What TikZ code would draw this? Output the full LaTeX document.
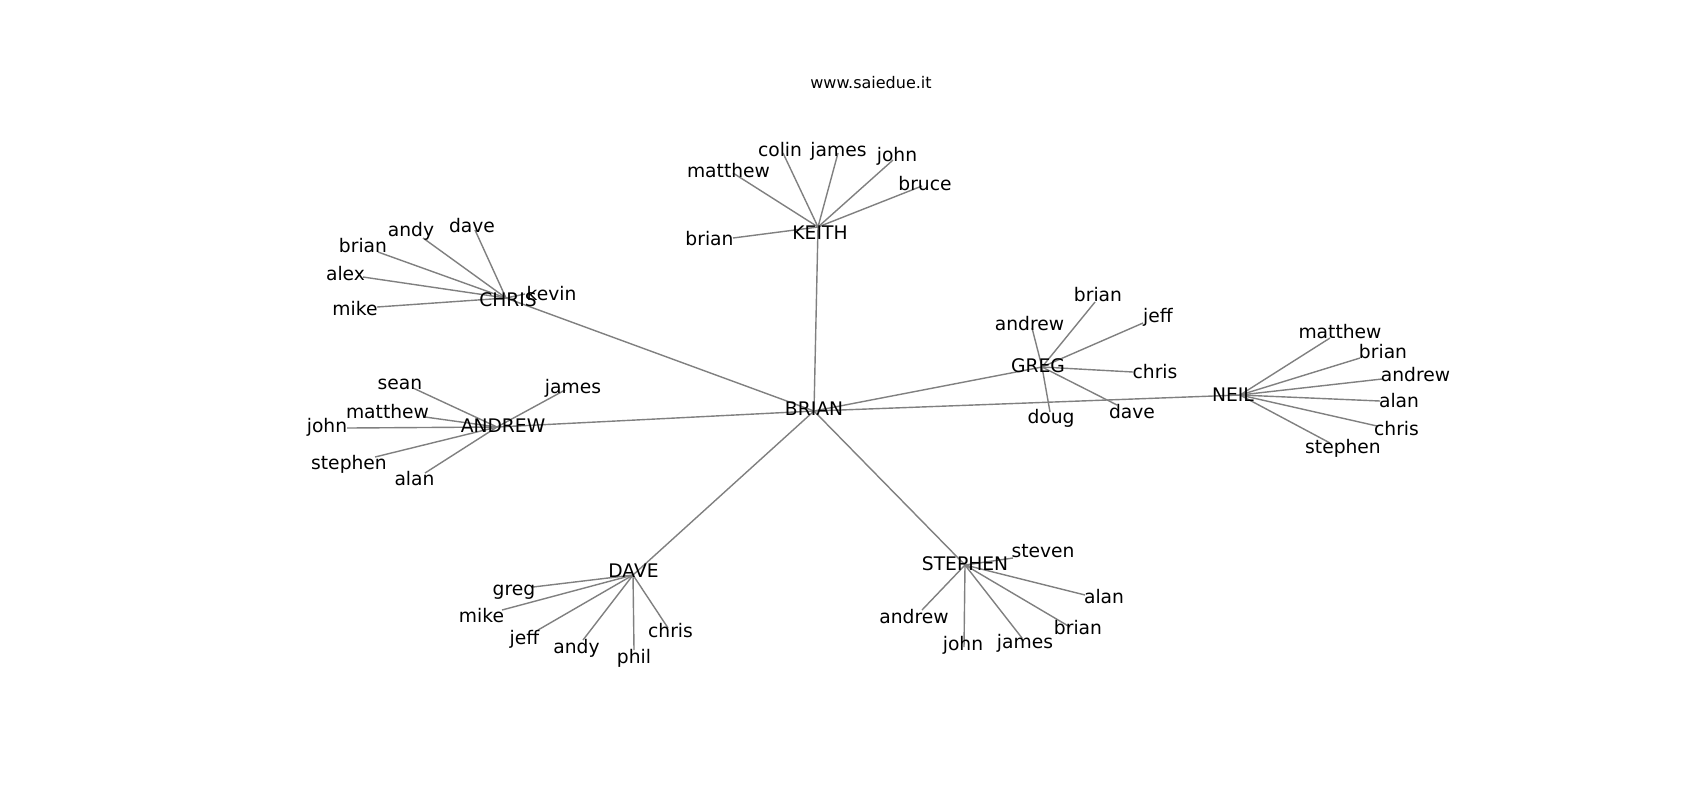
\documentclass[tikz,border=0pt]{standalone}
\usepackage{fontspec}
\setmainfont{DejaVu Sans}
\usepackage{tikz}

\begin{document}
\begin{tikzpicture}[x=0.5pt,y=-0.5pt,
  person/.style={anchor=base,inner sep=0pt,font=\fontsize{9.35}{11}\selectfont},
  edge/.style={draw=gray,line width=0.7pt}]
  \useasboundingbox[fill=white] (0,0) rectangle (1700,800);
  \node[anchor=base,inner sep=0pt,font=\fontsize{8}{10}\selectfont] (title) at (871,88) {www.saiedue.it};
  % centres
  \coordinate (brian-c) at (814,411);
  \coordinate (keith-c) at (818,227);
  \coordinate (chris-c) at (506,298);
  \coordinate (andrew-c) at (497,427);
  \coordinate (greg-c) at (1042,367);
  \coordinate (neil-c) at (1240,395);
  \coordinate (dave-c) at (633,575);
  \coordinate (stephen-c) at (965,565);
  % keith
  \coordinate (kmatthew-c) at (733,173);
  \coordinate (kcolin-c) at (783,153);
  \coordinate (kjames-c) at (838,153);
  \coordinate (kjohn-c) at (893,160);
  \coordinate (kbruce-c) at (922,186);
  \coordinate (kbrian-c) at (733,238);
  % chris
  \coordinate (candy-c) at (423,238);
  \coordinate (cdave-c) at (475,230);
  \coordinate (cbrian-c) at (378,252);
  \coordinate (calex-c) at (363,277);
  \coordinate (cmike-c) at (377,307);
  \coordinate (ckevin-c) at (525,294);
  % andrew
  \coordinate (asean-c) at (413,388);
  \coordinate (amatthew-c) at (425,417);
  \coordinate (ajohn-c) at (347,428);
  \coordinate (ajames-c) at (565,390);
  \coordinate (astephen-c) at (375,457);
  \coordinate (aalan-c) at (425,473);
  % greg
  \coordinate (gbrian-c) at (1095,302);
  \coordinate (gandrew-c) at (1032,328);
  \coordinate (gjeff-c) at (1143,323);
  \coordinate (gchris-c) at (1133,372);
  \coordinate (gdave-c) at (1117,405);
  \coordinate (gdoug-c) at (1050,412);
  % neil
  \coordinate (nmatthew-c) at (1330,338);
  \coordinate (nbrian-c) at (1360,358);
  \coordinate (nandrew-c) at (1382,379);
  \coordinate (nalan-c) at (1380,401);
  \coordinate (nchris-c) at (1377,426);
  \coordinate (nstephen-c) at (1330,443);
  % dave
  \coordinate (dgreg-c) at (533,587);
  \coordinate (dmike-c) at (502,610);
  \coordinate (djeff-c) at (538,630);
  \coordinate (dandy-c) at (583,640);
  \coordinate (dphil-c) at (634,650);
  \coordinate (dchris-c) at (668,628);
  % stephen
  \coordinate (ssteven-c) at (1013,558);
  \coordinate (salan-c) at (1085,595);
  \coordinate (sbrian-c) at (1070,627);
  \coordinate (sjames-c) at (1022,638);
  \coordinate (sjohn-c) at (964,647);
  \coordinate (sandrew-c) at (922,610);

  \draw[edge](brian-c)--(keith-c);
  \draw[edge](brian-c)--(chris-c);
  \draw[edge](brian-c)--(andrew-c);
  \draw[edge](brian-c)--(greg-c);
  \draw[edge](brian-c)--(neil-c);
  \draw[edge](brian-c)--(dave-c);
  \draw[edge](brian-c)--(stephen-c);
  \draw[edge](keith-c)--(kmatthew-c);
  \draw[edge](keith-c)--(kcolin-c);
  \draw[edge](keith-c)--(kjames-c);
  \draw[edge](keith-c)--(kjohn-c);
  \draw[edge](keith-c)--(kbruce-c);
  \draw[edge](keith-c)--(kbrian-c);
  \draw[edge](chris-c)--(candy-c);
  \draw[edge](chris-c)--(cdave-c);
  \draw[edge](chris-c)--(cbrian-c);
  \draw[edge](chris-c)--(calex-c);
  \draw[edge](chris-c)--(cmike-c);
  \draw[edge](chris-c)--(ckevin-c);
  \draw[edge](andrew-c)--(asean-c);
  \draw[edge](andrew-c)--(amatthew-c);
  \draw[edge](andrew-c)--(ajohn-c);
  \draw[edge](andrew-c)--(ajames-c);
  \draw[edge](andrew-c)--(astephen-c);
  \draw[edge](andrew-c)--(aalan-c);
  \draw[edge](greg-c)--(gbrian-c);
  \draw[edge](greg-c)--(gandrew-c);
  \draw[edge](greg-c)--(gjeff-c);
  \draw[edge](greg-c)--(gchris-c);
  \draw[edge](greg-c)--(gdave-c);
  \draw[edge](greg-c)--(gdoug-c);
  \draw[edge](neil-c)--(nmatthew-c);
  \draw[edge](neil-c)--(nbrian-c);
  \draw[edge](neil-c)--(nandrew-c);
  \draw[edge](neil-c)--(nalan-c);
  \draw[edge](neil-c)--(nchris-c);
  \draw[edge](neil-c)--(nstephen-c);
  \draw[edge](dave-c)--(dgreg-c);
  \draw[edge](dave-c)--(dmike-c);
  \draw[edge](dave-c)--(djeff-c);
  \draw[edge](dave-c)--(dandy-c);
  \draw[edge](dave-c)--(dphil-c);
  \draw[edge](dave-c)--(dchris-c);
  \draw[edge](stephen-c)--(ssteven-c);
  \draw[edge](stephen-c)--(salan-c);
  \draw[edge](stephen-c)--(sbrian-c);
  \draw[edge](stephen-c)--(sjames-c);
  \draw[edge](stephen-c)--(sjohn-c);
  \draw[edge](stephen-c)--(sandrew-c);

  % labels
  \node[person] (brian) at (814,415) {BRIAN};
  \node[person] (keith) at (820,239) {KEITH};
  \node[person] (chris) at (508,306) {CHRIS};
  \node[person] (andrew) at (503,432) {ANDREW};
  \node[person] (greg) at (1038,372) {GREG};
  \node[person] (neil) at (1233,401) {NEIL};
  \node[person] (dave) at (633.5,577) {DAVE};
  \node[person] (stephen) at (965,570) {STEPHEN};
  \node[person] (kmatthew) at (728.5,177) {matthew};
  \node[person] (kcolin) at (780,156) {colin};
  \node[person] (kjames) at (838.5,156) {james};
  \node[person] (kjohn) at (897,161) {john};
  \node[person] (kbruce) at (925,190) {bruce};
  \node[person] (kbrian) at (709.5,245) {brian};
  \node[person] (candy) at (411,236) {andy};
  \node[person] (cdave) at (472,232) {dave};
  \node[person] (cbrian) at (363,252) {brian};
  \node[person] (calex) at (345.5,280) {alex};
  \node[person] (cmike) at (355,315) {mike};
  \node[person] (ckevin) at (551.5,300) {kevin};
  \node[person] (asean) at (400,389) {sean};
  \node[person] (amatthew) at (387.5,418) {matthew};
  \node[person] (ajohn) at (327,432) {john};
  \node[person] (ajames) at (573,393) {james};
  \node[person] (astephen) at (349,469) {stephen};
  \node[person] (aalan) at (414.5,485) {alan};
  \node[person] (gbrian) at (1098,301) {brian};
  \node[person] (gandrew) at (1029.5,330) {andrew};
  \node[person] (gjeff) at (1158,322) {jeff};
  \node[person] (gchris) at (1155,378) {chris};
  \node[person] (gdave) at (1132,418) {dave};
  \node[person] (gdoug) at (1051,423) {doug};
  \node[person] (nmatthew) at (1340,338) {matthew};
  \node[person] (nbrian) at (1383,358) {brian};
  \node[person] (nandrew) at (1415.5,381) {andrew};
  \node[person] (nalan) at (1399,407) {alan};
  \node[person] (nchris) at (1396.5,435) {chris};
  \node[person] (nstephen) at (1343,453) {stephen};
  \node[person] (dgreg) at (514,595) {greg};
  \node[person] (dmike) at (481.5,622) {mike};
  \node[person] (djeff) at (524.5,644) {jeff};
  \node[person] (dandy) at (576.5,653) {andy};
  \node[person] (dphil) at (634,663) {phil};
  \node[person] (dchris) at (670.5,637) {chris};
  \node[person] (ssteven) at (1043,557) {steven};
  \node[person] (salan) at (1104,603) {alan};
  \node[person] (sbrian) at (1078,634) {brian};
  \node[person] (sjames) at (1025,648) {james};
  \node[person] (sjohn) at (963,650) {john};
  \node[person] (sandrew) at (914,623) {andrew};
\end{tikzpicture}
\end{document}
